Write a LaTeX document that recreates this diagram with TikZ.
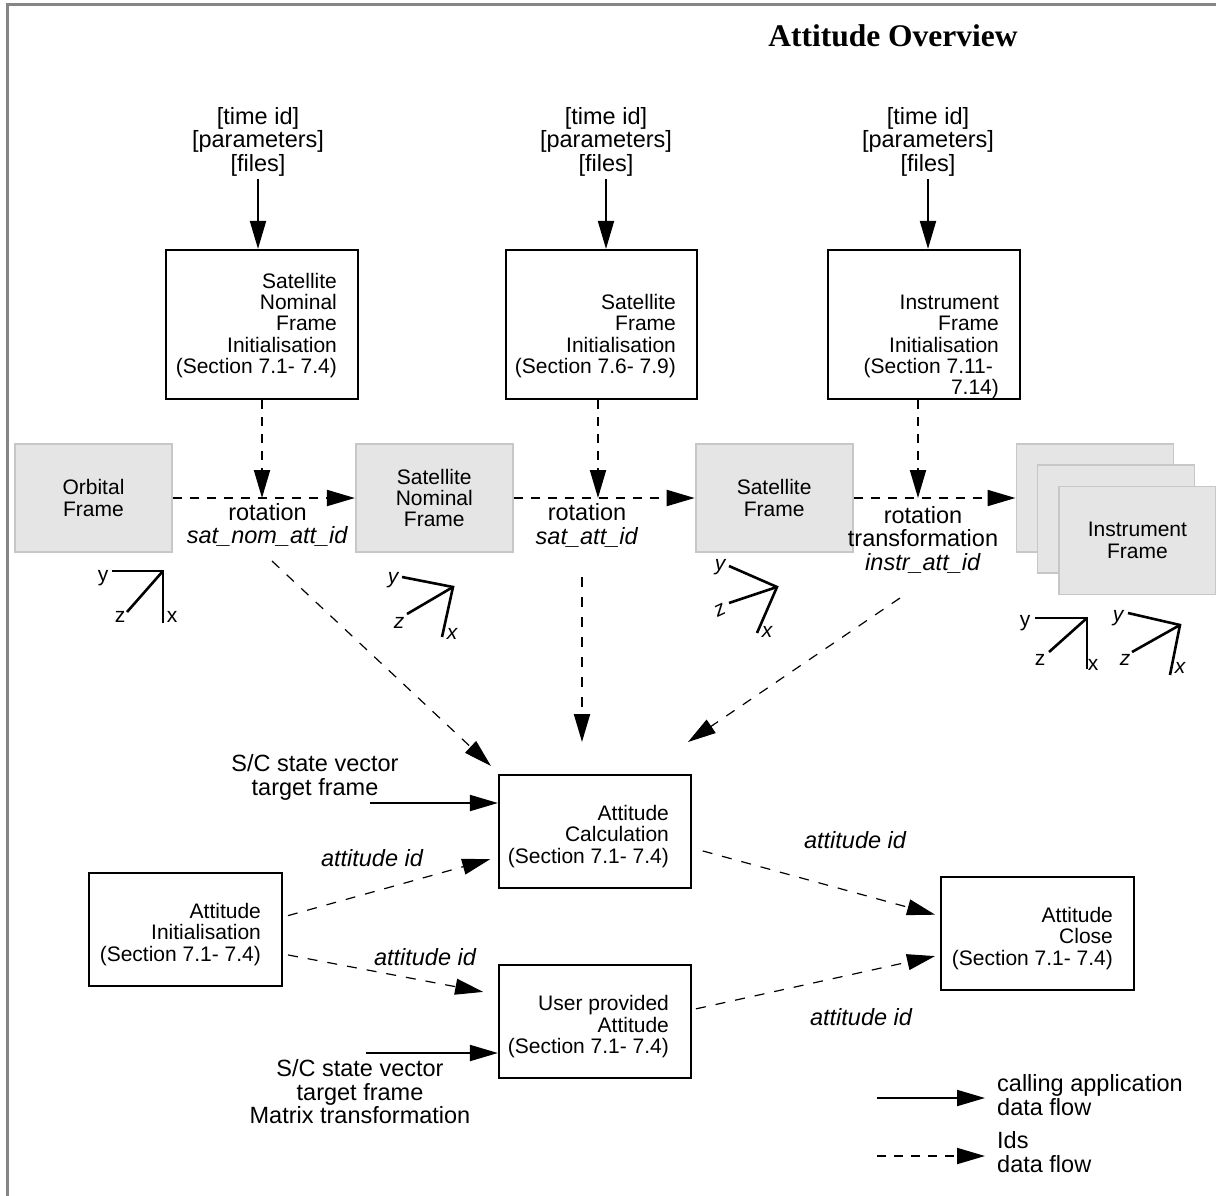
\documentclass[tikz,border=0pt]{standalone}
\usepackage{fontspec}
\setmainfont{Liberation Sans}
\newfontfamily\titlefont{Liberation Serif}
\usetikzlibrary{positioning, calc, arrows.meta}

\definecolor{framefill}{gray}{0.90}
\definecolor{frameline}{gray}{0.78}
\definecolor{pageline}{gray}{0.52}

\newcommand{\boxfont}{\fontsize{21}{21.4}\selectfont}
\newcommand{\lblfont}{\fontsize{23.5}{23.5}\selectfont}

\tikzset{
  initbox/.style={draw, line width=2.2pt, minimum width=192pt, minimum height=149pt, inner sep=0pt},
  procbox/.style={draw, line width=2.2pt, minimum width=192pt, minimum height=113pt, inner sep=0pt},
  framebox/.style={draw=frameline, fill=framefill, line width=1.8pt, minimum width=157pt, minimum height=108pt, align=center, font=\boxfont},
  boxtext/.style={anchor=east, align=right, inner sep=0pt, font=\boxfont},
  lbl/.style={align=center, font=\lblfont, inner sep=3pt},
  callflow/.style={line width=2pt, -{Triangle[length=28pt,width=16pt]}},
  idflow/.style={line width=2pt, dash pattern=on 9pt off 8pt, -{Triangle[length=28pt,width=16pt]}},
  idthin/.style={line width=1.2pt, dash pattern=on 10pt off 10pt, -{Triangle[length=28pt,width=16pt]}},
  axis/.style={line width=2.6pt},
  axlbl/.style={inner sep=0pt, font=\boxfont},
}

\begin{document}
\begin{tikzpicture}[x=1pt, y=-1pt]
    \useasboundingbox (0,0) rectangle (1216,1195);
    \draw[pageline, line width=3pt] (1220,4) -- (7,4) -- (7,1200);

    \node[font={\titlefont\bfseries\fontsize{31.5}{32}\selectfont}] (title) at (893,36) {Attitude Overview};

    % Define init nodes
    \node[initbox] (snfi) at (262,324.5) {};
    \node[boxtext] (snfitxt) at ([xshift=-22pt, yshift=-1pt]snfi.east) {Satellite\\Nominal\\Frame\\Initialisation\\(Section 7.1- 7.4)};
    \node[initbox, minimum width=191pt] (sfi) at (601.5,324.5) {};
    \node[boxtext] (sfitxt) at ([xshift=-22pt, yshift=-11.5pt]sfi.east) {Satellite\\Frame\\Initialisation\\(Section 7.6- 7.9)};
    \node[initbox] (ifi) at (924,324.5) {};
    \node[boxtext] (ifitxt) at ([xshift=-22pt, yshift=-22.5pt]ifi.east) {Instrument\\Frame\\Initialisation\\(Section 7.11-\kern6pt\\7.14)};

    \node[lbl] (tlsnf) at (258,141.5) {[time id]\\{[parameters]}\\{[files]}};
    \node[lbl] (tlsf) at (606,141.5) {[time id]\\{[parameters]}\\{[files]}};
    \node[lbl] (tlif) at (928,141.5) {[time id]\\{[parameters]}\\{[files]}};

    % Define frame nodes
    \node[framebox] (orbital) at (93.5,498) {Orbital\\Frame};
    \node[framebox, right=182pt of orbital] (satnom) {Satellite\\Nominal\\Frame};
    \node[framebox, right=181pt of satnom] (satfr) {Satellite\\Frame};
    \node[framebox, right=162pt of satfr] (instrb) {};
    \node[framebox] (instrm) at ($(instrb)+(21,21)$) {};
    \node[framebox] (instrf) at ($(instrb)+(42.5,42.5)$) {Instrument\\Frame};

    \node[lbl] (rotnom) at (267.5,525) {rotation\\\textit{sat\_nom\_att\_id}};
    \node[lbl] (rotsat) at (587,525.5) {rotation\\\textit{sat\_att\_id}};
    \node[lbl] (rotinstr) at (923,539.5) {rotation\\transformation\\\textit{instr\_att\_id}};

    % Connect nodes
    \draw[callflow] (tlsnf.south) -- (tlsnf.south |- snfi.north);
    \draw[callflow] (tlsf.south) -- (tlsf.south |- sfi.north);
    \draw[callflow] (tlif.south) -- (tlif.south |- ifi.north);

    \draw[idflow] (snfi.south) -- (snfi.south |- orbital.east);
    \draw[idflow] ([xshift=-3.5pt]sfi.south) -- ([xshift=-3.5pt]sfi.south |- satnom.east);
    \draw[idflow] ([xshift=-6pt]ifi.south) -- ([xshift=-6pt]ifi.south |- satfr.east);

    \draw[idflow] (orbital) -- (satnom);
    \draw[idflow] (satnom) -- (satfr);
    \draw[idflow] (satfr) -- (instrb);

    % frame axes
    \coordinate (orbax) at (163,571);
    \draw[axis] ($(orbax)+(-51,0)$) -- (orbax) -- ++(0,52);
    \draw[axis] (orbax) -- ++(-36,41);
    \node[axlbl] (orby) at ($(orbax)+(-60,7)$) {y};
    \node[axlbl] (orbz) at ($(orbax)+(-43,46)$) {z};
    \node[axlbl] (orbx) at ($(orbax)+(9,46)$) {x};

    \coordinate (nomax) at (453,587);
    \draw[axis] ($(nomax)+(-51,-10)$) -- (nomax) -- ++(-11,50);
    \draw[axis] (nomax) -- ++(-46,27);
    \node[axlbl, font=\boxfont\itshape] (nomy) at ($(nomax)+(-60,-7)$) {y};
    \node[axlbl, font=\boxfont\itshape] (nomz) at ($(nomax)+(-54,36)$) {z};
    \node[axlbl, font=\boxfont\itshape] (nomx) at ($(nomax)+(-1,47)$) {x};

    \coordinate (satax) at (777,587);
    \draw[axis] ($(satax)+(-48,-21)$) -- (satax) -- ++(-20,46);
    \draw[axis] (satax) -- ++(-48,16);
    \node[axlbl, font=\boxfont\itshape] (saty) at ($(satax)+(-57,-20)$) {y};
    \node[axlbl, font=\boxfont\itshape, rotate=25] (satz) at ($(satax)+(-57,23)$) {z};
    \node[axlbl, font=\boxfont\itshape] (satx) at ($(satax)+(-10,45)$) {x};

    \coordinate (inax) at (1087,618);
    \draw[axis] ($(inax)+(-52,0)$) -- (inax) -- ++(0,51);
    \draw[axis] (inax) -- ++(-38,34);
    \node[axlbl] (iny) at ($(inax)+(-62,5)$) {y};
    \node[axlbl] (inz) at ($(inax)+(-47,42)$) {z};
    \node[axlbl] (inx) at ($(inax)+(6,47)$) {x};

    \coordinate (inaxb) at (1180,625);
    \draw[axis] ($(inaxb)+(-52,-12)$) -- (inaxb) -- ++(-10,50);
    \draw[axis] (inaxb) -- ++(-48,27);
    \node[axlbl, font=\boxfont\itshape] (inby) at ($(inaxb)+(-62,-7)$) {y};
    \node[axlbl, font=\boxfont\itshape] (inbz) at ($(inaxb)+(-55,35)$) {z};
    \node[axlbl, font=\boxfont\itshape] (inbx) at ($(inaxb)+(0,43)$) {x};

    % Define attitude nodes
    \node[procbox] (calc) at (595,831.5) {};
    \node[boxtext] (calctxt) at ([xshift=-23pt, yshift=-5pt]calc.east) {Attitude\\Calculation\\(Section 7.1- 7.4)};
    \node[procbox] (user) [below=75pt of calc] {};
    \node[boxtext] (usertxt) at ([xshift=-23pt, yshift=-5pt]user.east) {User provided\\Attitude\\(Section 7.1- 7.4)};
    \node[procbox, minimum width=193pt] (init) at (185.5,929.5) {};
    \node[boxtext] (inittxt) at ([xshift=-22pt, yshift=-5pt]init.east) {Attitude\\Initialisation\\(Section 7.1- 7.4)};
    \node[procbox, minimum width=193pt] (close) at (1037.5,933.5) {};
    \node[boxtext] (closetxt) at ([xshift=-22pt, yshift=-5pt]close.east) {Attitude\\Close\\(Section 7.1- 7.4)};

    % ids to the calculation
    \coordinate (nomout) at (272,561);
    \coordinate (nomtip) at (491,766);
    \draw[idthin] (nomout) -- (nomtip);
    \coordinate (satout) at (582,577);
    \coordinate (sattip) at (582,742);
    \draw[idflow, dash pattern=on 10pt off 10pt] (satout) -- (sattip);
    \coordinate (instrout) at (900,598);
    \coordinate (instrtip) at (688,742);
    \draw[idthin] (instrout) -- (instrtip);

    \node[lbl] (scincalc) at (315,777.5) {S/C state vector\\target frame};
    \coordinate (scincalcend) at (370,803);
    \draw[callflow] (scincalcend) -- (scincalcend -| calc.west);
    \node[lbl] (scinuser) at (360,1092) {S/C state vector\\target frame\\Matrix transformation};
    \coordinate (scinuserend) at (366,1053);
    \draw[callflow] (scinuserend) -- (scinuserend -| user.west);

    \draw[idthin, shorten <=5pt, shorten >=8pt] ([yshift=12.5pt]init.east) -- ([yshift=-25.5pt]calc.west);
    \node[lbl, font=\lblfont\itshape] (aidcalc) at (372,858) {attitude id};
    \draw[idthin, shorten <=5pt, shorten >=15pt] ([yshift=-24.5pt]init.east) -- ([yshift=27pt]user.west);
    \node[lbl, font=\lblfont\itshape] (aiduser) at (425,957) {attitude id};
    \draw[idthin, shorten <=11pt, shorten >=5pt] ([yshift=-16.5pt]calc.east) -- ([yshift=17.5pt]close.west);
    \node[lbl, font=\lblfont\itshape] (aidclosea) at (855,840) {attitude id};
    \draw[idthin, shorten <=4pt, shorten >=5pt] ([yshift=12pt]user.east) -- ([yshift=-21.5pt]close.west);
    \node[lbl, font=\lblfont\itshape] (aidcloseb) at (861,1017) {attitude id};

    % legend
    \node[lbl, anchor=west, align=left] (legcalltxt) at (994,1095) {calling application\\data flow};
    \coordinate (legcall) at (877,1098);
    \draw[callflow, shorten >=9pt] (legcall) -- (legcall -| legcalltxt.west);
    \node[lbl, anchor=west, align=left] (legidtxt) at (994,1152) {Ids\\data flow};
    \coordinate (legid) at (877,1156);
    \draw[idflow, shorten >=9pt] (legid) -- (legid -| legidtxt.west);
\end{tikzpicture}
\end{document}
